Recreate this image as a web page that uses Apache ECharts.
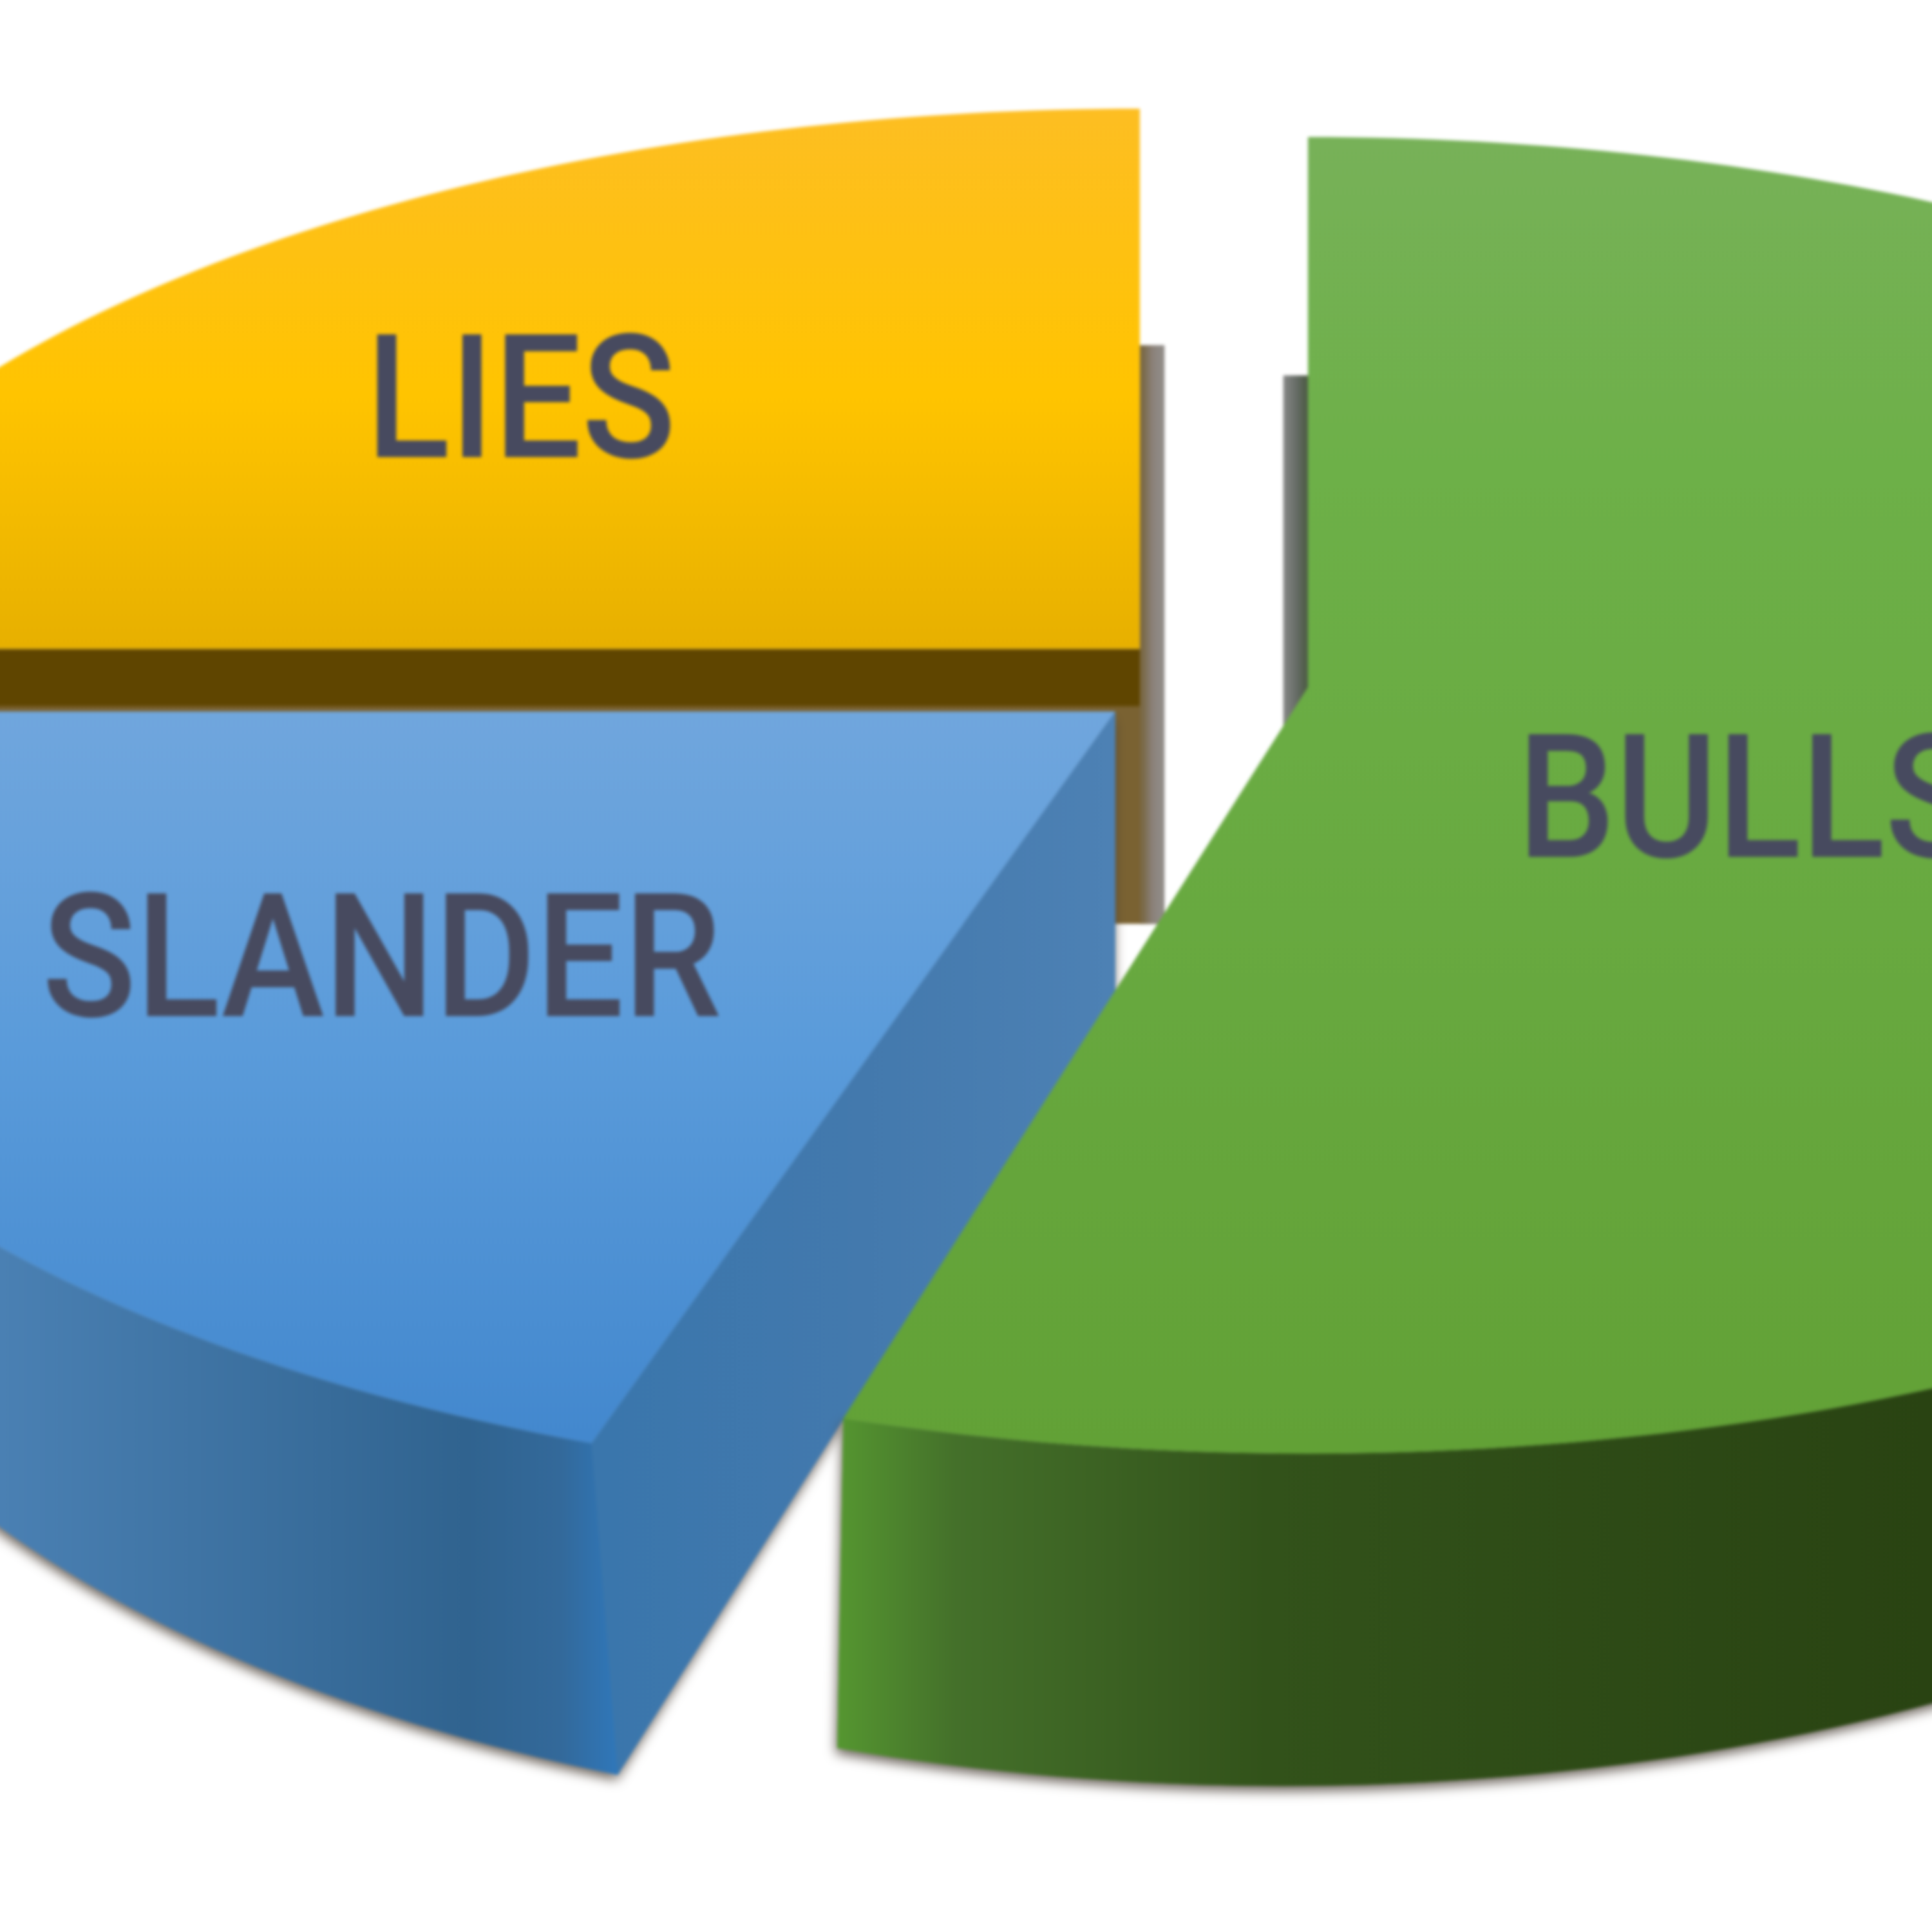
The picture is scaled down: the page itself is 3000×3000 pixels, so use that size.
<!DOCTYPE html>
<html><head><meta charset="utf-8">
<style>html,body{margin:0;padding:0;background:#fff;overflow:hidden;width:3000px;height:3000px}#c{position:absolute;left:-40px;top:-40px;width:3080px;height:3080px;filter:blur(2.5px)}</style>
<script src="https://cdn.jsdelivr.net/npm/echarts@6/dist/echarts.min.js"></script>
</head><body><div id="c"></div>
<script>
const categories = ['LIES', 'SLANDER', 'BULLSHIT'];
const shares = [25, 20, 55];

const K = 3000 / 1568;
const bleed = 40;
const pie = { cx: 982 * K, cy: 552 * K, rx: 1150 * K, ry: 518 * K, persp: 0.164, depth: 225 * K, explode: 0.07 };
const brownStrip = [[0, '#7A6232'], [0.35, '#7A6A4A'], [0.7, '#8A8078'], [1, '#8F8A85']];
const looks = [
  { shift: 20 * K, kx: 1, explodeK: 1, label: [0.644, 312.9],
    top: [[90, '#FDBE22'], [320, '#FFC400'], [525, '#E7B000']],
    faces: [
      { at: 'start', g: ['v', 525, 760, [[0, '#5F4500'], [0.2, '#5F4500'], [0.21, '#7A6232'], [1, '#7A6232']]] },
      { at: 'end', strip: true, g: ['h', 921, 941, brownStrip] }
    ],
    outer: null },
  { shift: 0, kx: 0.95, explodeK: 1.18, label: [0.596, 234.3],
    top: [[575, '#70A6DD'], [850, '#5A9BDA'], [1165, '#4388CE']],
    faces: [
      { at: 'start', shadow: true, g: ['h', 495, 905, [[0, '#3A76AC'], [0.5, '#4379AD'], [1, '#4D81B4']]] }
    ],
    outer: ['h', 0, 505, [[0, '#4A80B3'], [0.75, '#30638F'], [0.9, '#33699A'], [1, '#2F78BC']]] },
  { shift: -20 * K, kx: 0.96, explodeK: 1, label: [0.418, 112.3], endTrim: 2, outerFrom: 90,
    top: [[115, '#77B158'], [380, '#6DB048'], [1180, '#62A136']],
    faces: [
      { at: 'start', strip: true, g: ['h', 1040, 1062, [[0, '#8C8C8C'], [0.55, '#666C66'], [1, '#48583F']]] }
    ],
    outer: ['h', 668, 1568, [[0, '#579B31'], [0.12, '#44702A'], [0.4, '#32521A'], [1, '#294312']]] }
];
const labelFont = { size: 268, stretch: 0.9, color: '#474A5F', dy: 18 * K };
const shadow = { shadowColor: 'rgba(70,60,50,0.8)', shadowBlur: 18, shadowOffsetY: 8, shadowOffsetX: -2 };

const total = shares.reduce((a, b) => a + b, 0);
const spans = [];
shares.reduce((end, v) => { const start = end - v / total * 360; spans.push([start, end]); return start; }, 360);

function gradient(g) {
  const [dir, a, b, stops] = g;
  const cs = stops.map(([o, c]) => ({ offset: o, color: c }));
  return dir === 'h'
    ? new echarts.graphic.LinearGradient(a * K + bleed, 0, b * K + bleed, 0, cs, true)
    : new echarts.graphic.LinearGradient(0, a * K + bleed, 0, b * K + bleed, cs, true);
}
function topGradient(list) {
  const a = list[0][0], b = list[list.length - 1][0];
  return gradient(['v', a, b, list.map(([y, c]) => [(y - a) / (b - a), c])]);
}
function poly(points, fill, extra) {
  return { type: 'polygon', shape: { points }, style: Object.assign({ fill }, extra || {}), silent: true };
}

function renderItem(params, api) {
  const i = params.dataIndex;
  const look = looks[i];
  const [start, rawEnd] = spans[i];
  const end = rawEnd - (look.endTrim || 0);
  const rad = d => d * Math.PI / 180;
  const mid = rad((start + rawEnd) / 2);
  const ex = pie.explode * look.explodeK;
  const ou = ex * Math.sin(mid), ov = ex * Math.cos(mid);
  const project = (fu, fv) => {
    const v = ov + fv;
    const s = 1 / (1 + pie.persp * v);
    return [bleed + pie.cx + pie.rx * ou + pie.rx * fu * s, bleed + pie.cy - pie.ry * v * s, s];
  };
  const apex = project(0, 0);
  const upper = (deg, f = 1) => project(f * Math.sin(rad(deg)), f * Math.cos(rad(deg)));
  const lower = deg => {
    const p = upper(deg);
    return [apex[0] + look.shift + (p[0] - apex[0]) * look.kx, p[1] + pie.depth * p[2]];
  };
  const apexLow = [apex[0] + look.shift, apex[1] + pie.depth * apex[2]];
  const from = look.outerFrom !== undefined ? look.outerFrom : start;
  const arc = a => {
    const out = [];
    for (let d = a; d < end; d += 1) out.push(d);
    out.push(end);
    return out;
  };
  const shadowed = [], plain = [];
  look.faces.forEach(f => {
    const deg = f.at === 'start' ? start : end;
    const up = upper(deg), low = lower(deg);
    const pts = f.strip
      ? [[up[0], low[1]], low, apexLow, [apex[0], apexLow[1]]]
      : [apex.slice(0, 2), up.slice(0, 2), low, apexLow];
    if (f.shadow) shadowed.push(poly(pts, gradient(f.g), shadow));
    plain.push(poly(pts, gradient(f.g)));
  });
  if (look.outer) {
    const degs = arc(from);
    const pts = degs.map(d => upper(d).slice(0, 2)).concat(degs.slice().reverse().map(lower));
    shadowed.push(poly(pts, gradient(look.outer), shadow));
    plain.push(poly(pts, gradient(look.outer)));
  }
  const children = shadowed.concat(plain);
  const face = [apex.slice(0, 2)].concat(arc(start).map(d => upper(d).slice(0, 2)));
  children.push(poly(face, topGradient(look.top)));
  const lp = upper(look.label[1], look.label[0]);
  children.push({
    type: 'text', x: lp[0], y: lp[1] + labelFont.dy, scaleX: labelFont.stretch, z2: 50, silent: true,
    style: {
      text: categories[i], fill: labelFont.color, align: 'center', verticalAlign: 'middle',
      font: `500 ${labelFont.size}px Roboto`
    }
  });
  return { type: 'group', children };
}

const chart = echarts.init(document.getElementById('c'), null, { renderer: 'canvas', width: 3080, height: 3080 });
chart.setOption({
  animation: false,
  backgroundColor: '#ffffff',
  series: [{
    type: 'custom', coordinateSystem: 'none', renderItem,
    data: shares.map((v, i) => ({ name: categories[i], value: v }))
  }]
});
</script></body></html>
